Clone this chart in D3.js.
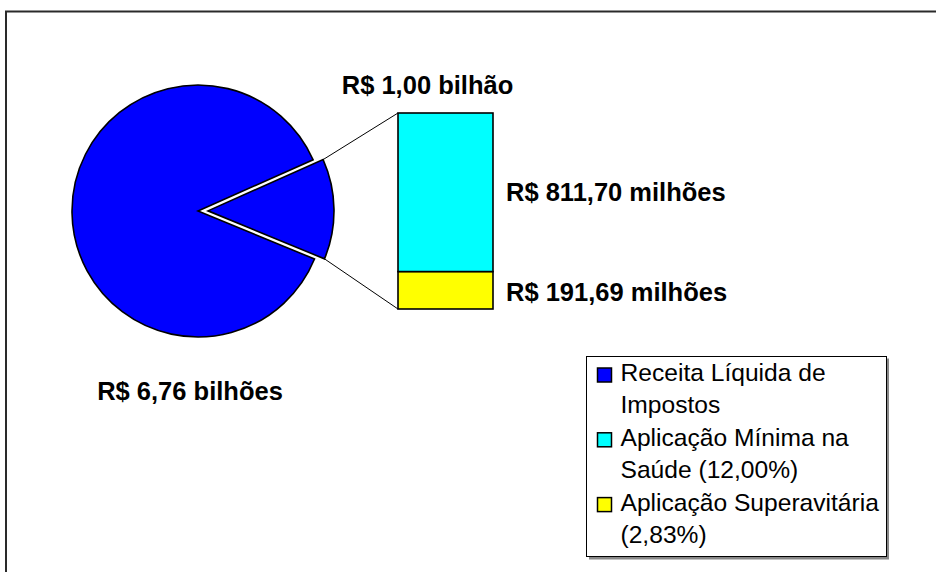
<!DOCTYPE html>
<html><head><meta charset="utf-8">
<script src="https://cdn.jsdelivr.net/npm/d3@7"></script>
<style>body{margin:0;background:#fff}svg{display:block}</style>
</head><body>
<svg id="c" width="936" height="572"></svg>
<script>
// ---- data ----
const pieCategories = ["Aplicação em Saúde", "Receita Líquida de Impostos"];
const pieValues = [1.00, 6.76];            // R$ bilhões
const pieLabels = ["R$ 1,00 bilhão", "R$ 6,76 bilhões"];
const barCategories = ["Aplicação Superavitária", "Aplicação Mínima na Saúde"];
const barValues = [191.69, 811.70];        // R$ milhões
const barLabels = ["R$ 191,69 milhões", "R$ 811,70 milhões"];
const legendLines = [["Receita Líquida de", "Impostos"], ["Aplicação Mínima na", "Saúde (12,00%)"], ["Aplicação Superavitária", "(2,83%)"]];
const legendColors = ["#0000FF", "#00FFFF", "#FFFF00"];
const pieColors = ["#0000FF", "#0000FF"];
const barColors = ["#FFFF00", "#00FFFF"];

const FONT = "'Liberation Sans', Arial, sans-serif";
const svg = d3.select("#c");

// outer frame
svg.append("rect").attr("x", 6).attr("y", 11.5).attr("width", 1000).attr("height", 700)
  .attr("fill", "#fff").attr("stroke", "#2a2a2a").attr("stroke-width", 2);

// ---- pie ----
const cx = 198, cy = 211, R = 126, explode = 10;
const deg = Math.PI / 180;
const start = 66 * deg;
const pie = d3.pie().sort(null).value(d => d).startAngle(start).endAngle(start + 2 * Math.PI);
const arcs = pie(pieValues);
const arc = d3.arc().innerRadius(0).outerRadius(R);
const off = arcs.map((a, i) => {
  if (i !== 0) return [0, 0];
  const m = (a.startAngle + a.endAngle) / 2;
  return [explode * Math.sin(m), -explode * Math.cos(m)];
});
const gPie = svg.append("g").attr("transform", `translate(${cx},${cy})`);
gPie.selectAll("path").data(arcs).join("path")
  .attr("d", arc)
  .attr("transform", (d, i) => `translate(${off[i][0]},${off[i][1]})`)
  .attr("fill", (d, i) => pieColors[i])
  .attr("stroke", "#000").attr("stroke-width", 1.6).attr("stroke-linejoin", "miter");

// ---- bar ----
const barTotal = d3.sum(barValues);
const y = d3.scaleLinear().domain([0, barTotal]).range([309, 113]);
const x = d3.scaleBand().domain(["bar"]).range([398, 493]).padding(0);
const stacked = d3.cumsum(barValues);
const gBar = svg.append("g");
gBar.selectAll("rect").data(barValues).join("rect")
  .attr("x", x("bar")).attr("width", x.bandwidth())
  .attr("y", (d, i) => y(stacked[i]))
  .attr("height", (d, i) => y(stacked[i] - d) - y(stacked[i]))
  .attr("fill", (d, i) => barColors[i])
  .attr("stroke", "#000").attr("stroke-width", 1.6);

// connector lines
const s = arcs[0];
const corner = a => [cx + off[0][0] + R * Math.sin(a), cy + off[0][1] - R * Math.cos(a)];
const c1 = corner(s.startAngle), c2 = corner(s.endAngle);
svg.append("line").attr("x1", c1[0]).attr("y1", c1[1]).attr("x2", x("bar")).attr("y2", y(barTotal))
  .attr("stroke", "#000").attr("stroke-width", 1);
svg.append("line").attr("x1", c2[0]).attr("y1", c2[1]).attr("x2", x("bar")).attr("y2", y(0))
  .attr("stroke", "#000").attr("stroke-width", 1);

// ---- labels ----
const lbl = (t, xx, yy, anchor) => svg.append("text").text(t).attr("x", xx).attr("y", yy)
  .attr("text-anchor", anchor).attr("font-family", FONT).attr("font-weight", "bold")
  .attr("font-size", 25.5).attr("fill", "#000");
lbl(pieLabels[0], x("bar") + x.bandwidth() / 2 - 18, y(barTotal) - 19, "middle");
lbl(pieLabels[1], cx - 8, 400, "middle");
barValues.forEach((v, i) => {
  const mid = (y(stacked[i]) + y(stacked[i] - v)) / 2;
  lbl(barLabels[i], x("bar") + x.bandwidth() + 13, i === 0 ? mid + 11 : mid + 9, "start");
});

// ---- legend ----
const lg = svg.append("g");
lg.append("rect").attr("x", 589).attr("y", 358.5).attr("width", 300).attr("height", 201).attr("fill", "#888");
lg.append("rect").attr("x", 586.5).attr("y", 356.5).attr("width", 300).attr("height", 200)
  .attr("fill", "#fff").attr("stroke", "#000").attr("stroke-width", 1);
const lineH = 32.4;
legendLines.forEach((lines, i) => {
  const base = 381 + i * 2 * lineH;
  lg.append("rect").attr("x", 597.5).attr("y", base - 13).attr("width", 14).attr("height", 14)
    .attr("fill", legendColors[i]).attr("stroke", "#000").attr("stroke-width", 1.5);
  lines.forEach((t, j) => {
    lg.append("text").text(t).attr("x", 620.5).attr("y", base + j * lineH)
      .attr("font-family", FONT).attr("font-size", 24.6).attr("fill", "#000");
  });
});
</script>
</body></html>
